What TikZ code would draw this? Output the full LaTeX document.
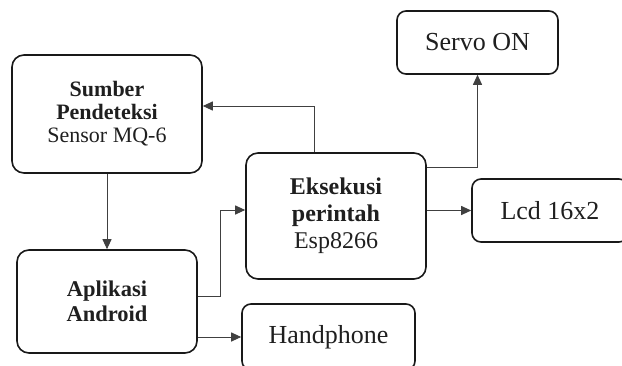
\documentclass[tikz,border=0pt]{standalone}
\usepackage{fontspec}
\setmainfont{Liberation Serif}
\usetikzlibrary{arrows.meta,positioning}

\tikzset{
  blok/.style={draw=black!90,line width=1.6pt,rounded corners=12pt,align=center,text=black!88},
  kecil/.style={blok,rounded corners=9pt,font=\fontsize{26}{28}\selectfont},
  panah/.style={draw=black!75,line width=1pt,-{Triangle[length=10pt,width=9pt]}}
}

\begin{document}
\begin{tikzpicture}[x=1pt,y=-1pt]
\clip (0,0) rectangle (622,365);
\node[blok,minimum width=190,minimum height=118,font=\fontsize{22}{23}\selectfont] (Sumber) at (107,114)
  {\textbf{Sumber}\\\textbf{Pendeteksi}\\Sensor MQ-6};
\node[blok,minimum width=180,minimum height=103,font=\fontsize{22.5}{25}\selectfont] (Aplikasi) at (107,301.5)
  {\textbf{Aplikasi}\\\textbf{Android}};
\node[blok,minimum width=180,minimum height=126,font=\fontsize{24}{27}\selectfont] (Eksekusi) at (336,216)
  {\textbf{Eksekusi}\\\textbf{perintah}\\ Esp8266};
\node[kecil,minimum width=161,minimum height=63] (Servo) at (477.5,42.5) {Servo ON};
\node[kecil,minimum width=156,minimum height=63] (Lcd) at (550,210.5) {Lcd 16x2};
\node[kecil,minimum width=173,minimum height=66] (Handphone) at (328.5,337) {Handphone};

\draw[panah] (Sumber.south) -- (Aplikasi.north);
\draw[panah] ([xshift=-22pt]Eksekusi.north) |- ([yshift=8pt]Sumber.east);
\draw[panah] ([yshift=49pt]Eksekusi.east) -| (Servo.south);
\draw[panah] (Eksekusi.east |- Lcd.west) -- (Lcd.west);
\draw[panah] ([yshift=5.5pt]Aplikasi.east) -- ++(23,0) |- ([yshift=6pt]Eksekusi.west);
\draw[panah] (Aplikasi.east |- Handphone.west) -- (Handphone.west);
\end{tikzpicture}
\end{document}
